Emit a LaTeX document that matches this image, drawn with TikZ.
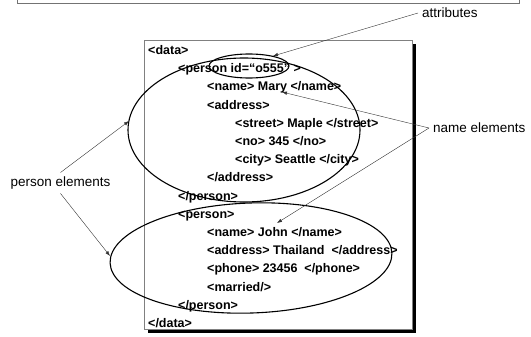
\documentclass[tikz,border=0pt]{standalone}
\usepackage{fontspec}
\setmainfont{Liberation Sans}
\usetikzlibrary{arrows.meta}

\begin{document}
\begin{tikzpicture}[x=1pt,y=1pt,
  xmltext/.style={anchor=base west,inner sep=0pt,font=\fontsize{12.5}{14}\selectfont\bfseries},
  callout/.style={inner sep=4pt,font=\fontsize{13.5}{16}\selectfont},
  pointer/.style={draw=black!80,line width=0.4pt,-{Latex[length=5pt,width=3.5pt]}},
  encircle/.style={draw=black,line width=1.1pt}]
\useasboundingbox (0,0) rectangle (531,-337);
\draw [black!55,line width=0.8pt] (17,8) rectangle (519,-3);
\fill [black] (148,-44) rectangle (416,-333);
\draw [black!50,fill=white,line width=0.8pt] (144,-40) rectangle (412,-329);
\node [xmltext] (data) at (148,-54.5) {<data>};
\node [xmltext] (pers1) at (178,-72.7) {<person id=“o555” >};
\node [xmltext] (name1) at (207,-90.9) {<name> Mary </name>};
\node [xmltext] (addr1) at (207,-109.1) {<address>};
\node [xmltext] (street) at (235,-127.3) {<street> Maple </street>};
\node [xmltext] (no) at (235,-145.5) {<no> 345 </no>};
\node [xmltext] (city) at (235,-163.7) {<city> Seattle </city>};
\node [xmltext] (addr1end) at (207,-181.9) {</address>};
\node [xmltext] (pers1end) at (178,-200.1) {</person>};
\node [xmltext] (pers2) at (178,-218.3) {<person>};
\node [xmltext] (name2) at (207,-236.5) {<name> John </name>};
\node [xmltext] (addr2) at (207,-254.7) {<address> Thailand~ </address>};
\node [xmltext] (phone) at (207,-272.9) {<phone> 23456~ </phone>};
\node [xmltext] (married) at (207,-291.1) {<married/>};
\node [xmltext] (pers2end) at (178,-309.3) {</person>};
\node [xmltext] (dataend) at (148,-327.5) {</data>};
\draw [encircle] (249,-66) ellipse [x radius=40,y radius=12];
\draw [encircle] (244,-130) ellipse [x radius=116,y radius=72];
\draw [encircle,rotate around={2:(251,-258)}] (251,-258) ellipse [x radius=141,y radius=55];
\node [callout,anchor=west] (attr) at (418,-13) {attributes};
\node [callout,anchor=west] (nameel) at (429,-128) {name elements};
\node [callout] (persel) at (60.5,-183) {person elements};
\coordinate (attrtip) at (273,-56);
\coordinate (marytip) at (282,-92);
\coordinate (johntip) at (277,-223);
\coordinate (pers1tip) at (129,-121);
\coordinate (pers2tip) at (110,-256);
\draw [pointer] (attr.west) -- (attrtip);
\draw [pointer] (nameel.west) -- (marytip);
\draw [pointer] (nameel.west) -- (johntip);
\draw [pointer] (persel.north) -- (pers1tip);
\draw [pointer] (persel.south) -- (pers2tip);
\end{tikzpicture}
\end{document}
